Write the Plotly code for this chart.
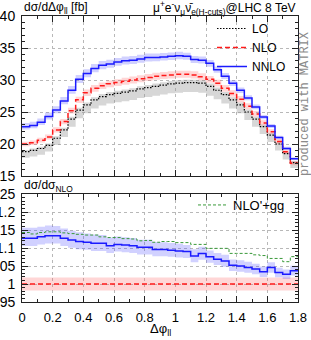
import plotly.graph_objects as go

# ---------------- data ----------------
bin_edges = [round(0.05 * i, 2) for i in range(37)]

lo = [18.8, 19.0, 19.3, 19.8, 20.9, 22.2, 23.9, 25.3, 26.1, 26.9, 27.4, 27.7,
      27.9, 28.1, 28.3, 28.6, 28.8, 29.0, 29.2, 29.4, 29.5, 29.6, 29.6, 29.5,
      29.0, 28.4, 27.7, 26.9, 26.1, 25.0, 23.9, 22.7, 21.4, 20.0, 18.5, 17.1]
nlo = [20.0, 20.2, 20.6, 21.1, 22.2, 23.5, 25.2, 26.9, 28.0, 28.7, 29.1, 29.4,
       29.6, 29.8, 30.0, 30.2, 30.4, 30.6, 30.7, 30.8, 30.9, 30.9, 30.8, 30.5,
       30.1, 29.5, 28.7, 27.9, 27.0, 25.9, 24.7, 23.3, 21.9, 20.4, 18.8, 17.0]
nnlo = [22.7, 22.9, 23.4, 24.3, 25.3, 26.7, 28.4, 30.1, 31.0, 31.8, 32.3, 32.5,
        32.8, 33.0, 33.1, 33.3, 33.5, 33.5, 33.6, 33.7, 33.8, 33.7, 33.2, 33.1,
        32.6, 31.6, 30.6, 29.5, 28.4, 27.2, 25.8, 24.2, 22.8, 21.0, 19.3, 17.7]

ratio_nnlo = [1.127, 1.127, 1.131, 1.134, 1.134, 1.127, 1.122, 1.118, 1.116, 1.113,
              1.113, 1.106, 1.110, 1.108, 1.106, 1.102, 1.102, 1.096, 1.096, 1.094,
              1.092, 1.090, 1.078, 1.085, 1.076, 1.069, 1.064, 1.052, 1.050, 1.046,
              1.042, 1.034, 1.046, 1.032, 1.027, 1.037]
ratio_gg = [1.143, 1.139, 1.143, 1.145, 1.145, 1.142, 1.140, 1.138, 1.136, 1.136,
            1.131, 1.129, 1.129, 1.126, 1.125, 1.120, 1.121, 1.116, 1.118, 1.118,
            1.115, 1.115, 1.110, 1.110, 1.099, 1.099, 1.099, 1.085, 1.085, 1.085,
            1.081, 1.079, 1.071, 1.071, 1.062, 1.076]

# scale-variation bands (percent)
lo_unc_up, lo_unc_dn = 1.5, 5.0
nlo_unc = 1.8
nnlo_up_pct = [2.6, 2.6, 2.5, 2.5, 2.4, 2.4, 2.3, 2.3, 2.2, 2.2, 2.1, 2.1,
               2.0, 2.0, 2.0, 1.9, 1.9, 1.9, 1.8, 1.8, 1.8, 1.7, 1.7, 1.7,
               1.6, 1.6, 1.6, 1.5, 1.5, 1.5, 1.4, 1.4, 1.4, 1.3, 1.3, 1.3]
nnlo_dn_pct = [1.9, 1.9, 1.9, 1.9, 1.9, 1.9, 1.9, 1.9, 1.9, 1.9, 1.9, 1.8,
               1.8, 1.8, 1.8, 1.8, 1.8, 1.7, 1.7, 1.7, 1.7, 1.6, 1.6, 1.6,
               1.6, 1.5, 1.5, 1.5, 1.5, 1.4, 1.4, 1.4, 1.4, 1.3, 1.3, 1.3]

x_tick_vals = [0, 0.2, 0.4, 0.6, 0.8, 1.0, 1.2, 1.4, 1.6, 1.8]
x_tick_text = ["0", "0.2", "0.4", "0.6", "0.8", "1", "1.2", "1.4", "1.6", "1.8"]
top_y_vals = [15, 20, 25, 30, 35, 40]
ratio_y_vals = [0.95, 1.0, 1.05, 1.1, 1.15, 1.2, 1.25]
ratio_y_text = ["0.95", "1", "1.05", "1.1", "1.15", "1.2", "1.25"]

series_names = ["LO", "NLO", "NNLO"]
gg_name = "NLO'+gg"

# ---------------- helpers ----------------
def step(vals):
    return bin_edges, list(vals) + [vals[-1]]

def scaled(vals, pct, sign):
    if isinstance(pct, (int, float)):
        pct = [pct] * len(vals)
    return [v * (1 + sign * p / 100.0) for v, p in zip(vals, pct)]

def band(fig, lower, upper, color, xa, ya):
    x, yl = step(lower)
    _, yu = step(upper)
    fig.add_trace(go.Scatter(x=x, y=yl, mode="lines", line=dict(width=0, shape="hv"),
                             showlegend=False, hoverinfo="skip", xaxis=xa, yaxis=ya))
    fig.add_trace(go.Scatter(x=x, y=yu, mode="lines", line=dict(width=0, shape="hv"),
                             fill="tonexty", fillcolor=color, showlegend=False,
                             hoverinfo="skip", xaxis=xa, yaxis=ya))

def line(fig, vals, color, dash, width, name, xa, ya, legend="legend", showlegend=True):
    x, y = step(vals)
    fig.add_trace(go.Scatter(x=x, y=y, mode="lines", name=name,
                             line=dict(color=color, dash=dash, width=width, shape="hv"),
                             xaxis=xa, yaxis=ya, legend=legend, showlegend=showlegend))

C_LO, C_NLO, C_NNLO, C_GG = "#000000", "#ff1a1a", "#1a1aff", "#3a9a3a"
B_LO, B_NLO, B_NNLO = "rgba(150,150,150,0.38)", "rgba(255,90,90,0.25)", "rgba(70,70,255,0.25)"

fig = go.Figure()

# top panel
band(fig, scaled(lo, lo_unc_dn, -1), scaled(lo, lo_unc_up, 1), B_LO, "x", "y")
band(fig, scaled(nlo, nlo_unc, -1), scaled(nlo, nlo_unc, 1), B_NLO, "x", "y")
band(fig, scaled(nnlo, nnlo_dn_pct, -1), scaled(nnlo, nnlo_up_pct, 1), B_NNLO, "x", "y")
line(fig, lo, C_LO, "1.5px,1.5px", 1.2, series_names[0], "x", "y")
line(fig, nlo, C_NLO, "5px,3px", 1.5, series_names[1], "x", "y")
line(fig, nnlo, C_NNLO, "solid", 1.5, series_names[2], "x", "y")

# ratio panel
ones = [1.0] * len(nlo)
band(fig, scaled(ones, nlo_unc, -1), scaled(ones, nlo_unc, 1), B_NLO, "x2", "y2")
band(fig, scaled(ratio_nnlo, nnlo_dn_pct, -1), scaled(ratio_nnlo, nnlo_up_pct, 1), B_NNLO, "x2", "y2")
line(fig, ones, C_NLO, "5px,3px", 1.5, series_names[1], "x2", "y2", showlegend=False)
line(fig, ratio_gg, C_GG, "3px,2px", 1.0, gg_name, "x2", "y2", legend="legend2")
line(fig, ratio_nnlo, C_NNLO, "solid", 1.5, series_names[2], "x2", "y2", showlegend=False)

FONT = "Liberation Sans, Arial, sans-serif"
H = 340 - 16 - 38

def pyf(py):
    return 1 - (py - 16) / H

def pxf(px):
    return (px - 22) / 276

common_x = dict(range=[0, 1.8], tickvals=x_tick_vals, ticktext=x_tick_text,
                ticks="inside", ticklen=6, tickcolor="#222", mirror="allticks",
                showline=True, linecolor="#222", linewidth=1, automargin=False,
                showgrid=True, gridcolor="#b8b8b8", griddash="dot", gridwidth=1,
                zeroline=False,
                minor=dict(dtick=0.1, ticklen=3, ticks="inside", tickcolor="#222", showgrid=False))
common_y = dict(ticks="inside", ticklen=6, tickcolor="#222", mirror="allticks",
                showline=True, linecolor="#222", linewidth=1, automargin=False,
                showgrid=True, gridcolor="#b8b8b8", griddash="dot", gridwidth=1,
                zeroline=False, ticklabelstandoff=3, tickfont=dict(size=14))

fig.update_layout(
    template="none",
    width=311, height=340,
    margin=dict(l=22, r=13, t=16, b=38, autoexpand=False),
    paper_bgcolor="white", plot_bgcolor="white",
    font=dict(family=FONT, size=13, color="black"),
    xaxis=dict(domain=[0, 1], anchor="y", showticklabels=False, **common_x),
    yaxis=dict(domain=[pyf(176), 1], anchor="x", range=[15, 40], tickvals=top_y_vals,
               minor=dict(dtick=1, ticklen=3, ticks="inside", tickcolor="#222", showgrid=False),
               **common_y),
    xaxis2=dict(domain=[0, 1], anchor="y2", showticklabels=True, ticklabelstandoff=3,
                tickfont=dict(size=13), **common_x),
    yaxis2=dict(domain=[0, pyf(194)], anchor="x2", range=[0.95, 1.25],
                tickvals=ratio_y_vals, ticktext=ratio_y_text,
                minor=dict(dtick=0.01, ticklen=3, ticks="inside", tickcolor="#222", showgrid=False),
                **common_y),
    legend=dict(x=pxf(212), xanchor="left", y=pyf(14), yanchor="top",
                bgcolor="rgba(0,0,0,0)", borderwidth=0, font=dict(size=12),
                tracegroupgap=0, traceorder="normal"),
    legend2=dict(x=pxf(290), xanchor="right", xref="paper", y=pyf(190), yanchor="top",
                 yref="paper", bgcolor="rgba(0,0,0,0)", borderwidth=0, font=dict(size=13),
                 orientation="v"),
    showlegend=True,
)

ann = [
    dict(text="dσ/dΔφ<sub>ll</sub> [fb]", x=0, xanchor="left", y=pyf(8), yanchor="middle", size=12),
    dict(text="μ<sup>+</sup>e<sup>-</sup>ν<sub>μ</sub>ν̄<sub>e</sub><sub>(H-cuts)</sub>@LHC 8 TeV",
         x=1, xanchor="right", y=pyf(8), yanchor="middle", size=12),
    dict(text="dσ/dσ<sub>NLO</sub>", x=0, xanchor="left", y=pyf(186), yanchor="middle", size=12),
    dict(text="Δφ<sub>ll</sub>", x=0.5, xanchor="center", y=pyf(329), yanchor="middle", size=13),
]
for a in ann:
    fig.add_annotation(text=a["text"], xref="paper", yref="paper", x=a["x"], y=a["y"],
                       xanchor=a["xanchor"], yanchor=a["yanchor"], showarrow=False,
                       font=dict(family=FONT, size=a["size"], color="black"))
fig.add_annotation(text="produced with MATRIX", xref="paper", yref="paper",
                   x=1 + 7 / 276, y=pyf(104), xanchor="center", yanchor="middle",
                   textangle=-90, showarrow=False,
                   font=dict(family="Liberation Mono, DejaVu Sans Mono, monospace", size=12, color="#8a8a8a"))

fig.write_html("out.html", config={"displayModeBar": False},
               post_script="document.body.style.margin='0px';")
